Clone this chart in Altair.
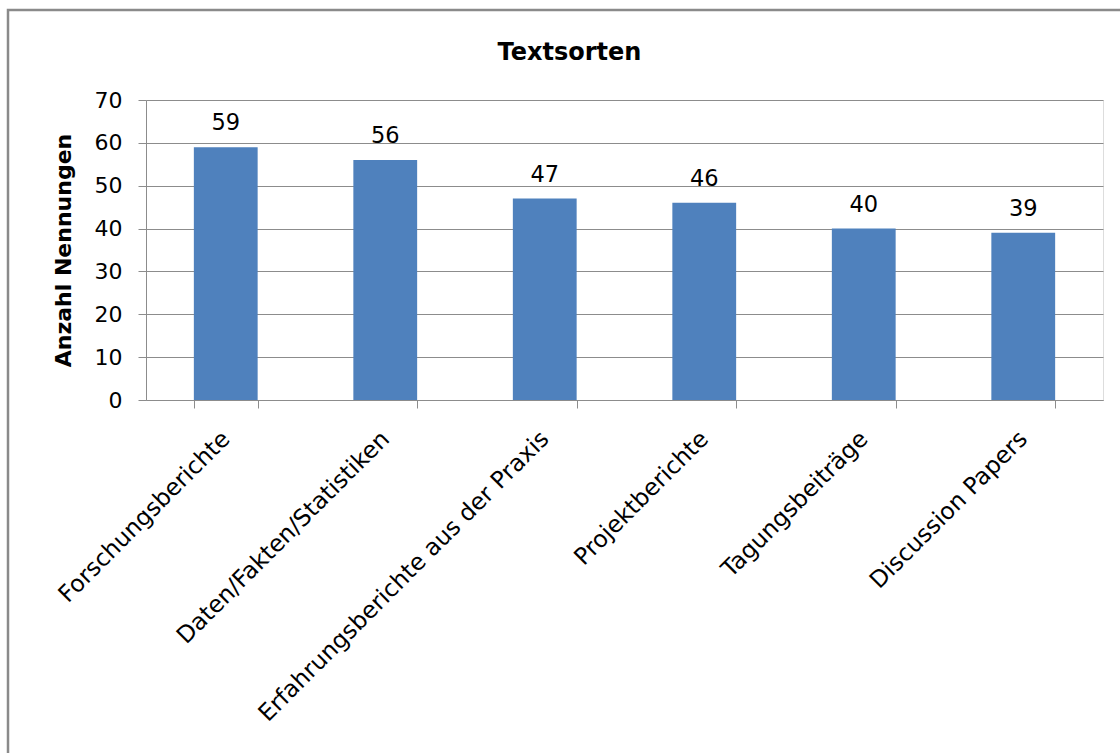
import altair as alt
import pandas as pd

categories = [
    "Forschungsberichte",
    "Daten/Fakten/Statistiken",
    "Erfahrungsberichte aus der Praxis",
    "Projektberichte",
    "Tagungsbeiträge",
    "Discussion Papers",
]
values = [59, 56, 47, 46, 40, 39]
y_ticks = [0, 10, 20, 30, 40, 50, 60, 70]

df = pd.DataFrame({"Textsorte": categories, "Anzahl": values})

FONT = "DejaVu Sans"
GRAY = "#8c8c8c"

x_enc = alt.X(
    "Textsorte:N",
    sort=categories,
    scale=alt.Scale(paddingInner=0.6, paddingOuter=0.3),
    axis=alt.Axis(
        title=None,
        labelAngle=-45,
        labelAlign="right",
        labelBaseline="middle",
        labelPadding=27,
        labelFont=FONT,
        labelFontSize=23.5,
        labelColor="black",
        labelLimit=700,
        tickBand="extent",
        tickSize=8,
        tickColor=GRAY,
        domainColor=GRAY,
        grid=False,
    ),
)

y_enc = alt.Y(
    "Anzahl:Q",
    scale=alt.Scale(domain=[0, 70], nice=False),
    axis=alt.Axis(
        title="Anzahl Nennungen",
        values=y_ticks,
        titleFont=FONT,
        titleFontSize=22,
        titleFontWeight="bold",
        titleColor="black",
        titlePadding=19,
        labelFont=FONT,
        labelFontSize=22,
        labelColor="black",
        labelPadding=16,
        tickSize=8,
        tickColor=GRAY,
        domainColor=GRAY,
        gridColor=GRAY,
        gridWidth=1,
    ),
)

bars = alt.Chart(df).mark_bar(color="#4F81BD").encode(x=x_enc, y=y_enc)

labels = alt.Chart(df).mark_text(
    font=FONT, fontSize=22.5, color="black", baseline="alphabetic", dy=-17
).encode(x=alt.X("Textsorte:N", sort=categories), y="Anzahl:Q", text="Anzahl:Q")

frame = alt.Chart(pd.DataFrame({"a": [0]})).mark_rect(
    fill=None, stroke="#8a8a8a", strokeWidth=2.5
).encode(
    x=alt.value(-138), x2=alt.value(1000), y=alt.value(-90), y2=alt.value(700)
)

chart = (
    alt.layer(bars, labels, frame)
    .properties(
        width=957,
        height=300,
        autosize=alt.AutoSizeParams(type="none"),
        padding={"left": 146, "top": 100, "right": 17, "bottom": 353},
        title=alt.Title(
            "Textsorten",
            font=FONT,
            fontSize=24,
            fontWeight="bold",
            color="black",
            anchor="middle",
            dx=-55,
            offset=-56,
        ),
    )
    .configure_view(stroke=None)
    .configure(background="white")
)

chart.save("out.html", embed_options={"renderer": "svg", "actions": False})
